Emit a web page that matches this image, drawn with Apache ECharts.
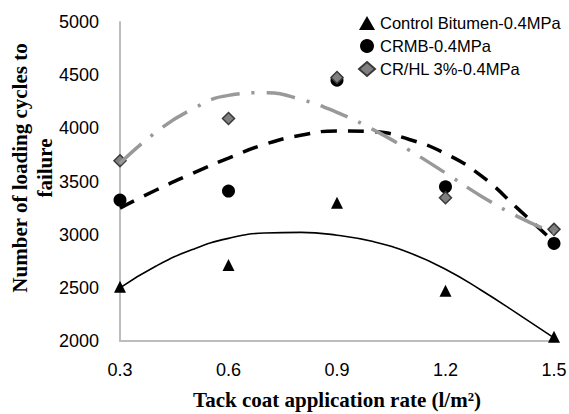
<!DOCTYPE html>
<html>
<head>
<meta charset="utf-8">
<script src="https://cdn.jsdelivr.net/npm/echarts@6/dist/echarts.min.js"></script>
<style>
html,body{margin:0;padding:0;background:#fff;}
#chart{width:569px;height:414px;}
</style>
</head>
<body>
<div id="chart"></div>
<script>
// Measured points
const xValues = [0.3, 0.6, 0.9, 1.2, 1.5];
const controlVals = [2510, 2715, 3300, 2473, 2040];
const crmbVals = [3325, 3410, 4453, 3450, 2918];
const crhlVals = [3695, 4093, 4478, 3347, 3050];

// Trendlines
const trendX = [0.3, 0.4, 0.5, 0.6, 0.7, 0.8, 0.9, 1.0, 1.1, 1.2, 1.3, 1.4, 1.5];
const controlTrend = [2500, 2705, 2860, 2965, 3015, 3022, 2995, 2935, 2830, 2675, 2475, 2255, 2030];
const crmbTrend = [3250, 3420, 3575, 3720, 3850, 3935, 3975, 3968, 3895, 3762, 3550, 3245, 2930];
const crhlTrend = [3670, 3965, 4180, 4310, 4335, 4272, 4150, 3988, 3793, 3580, 3360, 3170, 3015];

const seriesNames = ['Control Bitumen-0.4MPa', 'CRMB-0.4MPa', 'CR/HL 3%-0.4MPa'];
const xTitle = 'Tack coat application rate (l/m\u00B2)';
const yTitle = 'Number of loading cycles to\nfailure';

const pair = (xs, ys) => xs.map((x, i) => [x, ys[i]]);

const chart = echarts.init(document.getElementById('chart'), null, {renderer: 'svg'});
chart.setOption({
  animation: false,
  backgroundColor: '#fff',
  grid: {left: 120, right: 15, top: 22, bottom: 73, containLabel: false, outerBoundsMode: 'none'},
  legend: {
    orient: 'vertical', left: 353, top: 9, itemGap: 5,
    itemWidth: 16, itemHeight: 14,
    textStyle: {fontFamily: 'Liberation Sans', fontSize: 16.5, lineHeight: 18, color: '#000'},
    data: seriesNames
  },
  xAxis: {
    type: 'value', min: 0.3, max: 1.5, interval: 0.3,
    name: xTitle, nameLocation: 'middle', nameGap: 48,
    nameTextStyle: {fontFamily: 'Liberation Serif', fontWeight: 'bold', fontSize: 21, lineHeight: 21, color: '#000'},
    axisLine: {show: true, lineStyle: {color: '#bdbdbd', width: 2}},
    axisTick: {show: false},
    splitLine: {show: false},
    axisLabel: {margin: 20, fontFamily: 'Liberation Sans', fontSize: 18, color: '#000',
      formatter: v => v.toFixed(1)}
  },
  yAxis: {
    type: 'value', min: 2000, max: 5000, interval: 500,
    axisLine: {show: true, lineStyle: {color: '#bdbdbd', width: 2}},
    axisTick: {show: false},
    splitLine: {show: false},
    axisLabel: {margin: 21, fontFamily: 'Liberation Sans', fontSize: 18, color: '#000',
      formatter: v => String(v)}
  },
  graphic: [{
    type: 'text', x: 32, y: 168, rotation: Math.PI / 2,
    style: {text: yTitle, font: 'bold 21px "Liberation Serif"', align: 'center', verticalAlign: 'middle',
      lineHeight: 25, fill: '#000'}
  }],
  series: [
    {name: seriesNames[0], type: 'scatter', symbol: 'triangle', symbolSize: 12,
      itemStyle: {color: '#000', opacity: 1}, data: pair(xValues, controlVals), z: 2},
    {name: seriesNames[1], type: 'scatter', symbol: 'circle', symbolSize: 13,
      itemStyle: {color: '#000', opacity: 1}, data: pair(xValues, crmbVals), z: 2},
    {name: seriesNames[2], type: 'scatter', symbol: 'diamond', symbolSize: 12,
      itemStyle: {color: '#808080', borderColor: '#3a3a3a', borderWidth: 1.5, opacity: 1}, data: pair(xValues, crhlVals), z: 2},
    {name: 'controlTrend', type: 'line', smooth: true, showSymbol: false, silent: true, z: 3,
      lineStyle: {color: '#000', width: 1.6}, data: pair(trendX, controlTrend)},
    {name: 'crmbTrend', type: 'line', smooth: true, showSymbol: false, silent: true, z: 3,
      lineStyle: {color: '#000', width: 3.5, type: [16, 11]}, data: pair(trendX, crmbTrend)},
    {name: 'crhlTrend', type: 'line', smooth: true, showSymbol: false, silent: true, z: 3,
      lineStyle: {color: '#999999', width: 3.5, type: [29, 12, 3, 12]}, data: pair(trendX, crhlTrend)}
  ]
});
</script>
</body>
</html>
